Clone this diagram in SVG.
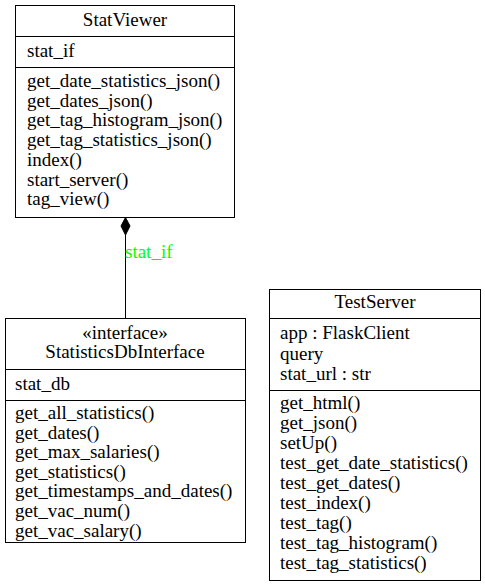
<svg xmlns="http://www.w3.org/2000/svg" width="485" height="587" viewBox="0 0 485 587">
<style>
.box{fill:#fff;stroke:#000;stroke-width:1}
.sep{stroke:#000;stroke-width:1}
text{font-family:"Liberation Serif","Times New Roman",serif;font-size:19px;fill:#000}
.c{text-anchor:middle}
.lbl{fill:#00ff00}
</style>
<rect width="485" height="587" fill="#fff"/>
<g id="StatViewer">
<rect class="box" x="15.5" y="5.5" width="219" height="212"/>
<line class="sep" x1="15.5" y1="36.5" x2="234.5" y2="36.5"/>
<line class="sep" x1="15.5" y1="67.5" x2="234.5" y2="67.5"/>
<text class="c" x="125" y="26">StatViewer</text>
<text x="27" y="57">stat_if</text>
<text x="27" y="87">get_date_statistics_json()</text>
<text x="27" y="106.7">get_dates_json()</text>
<text x="27" y="126.4">get_tag_histogram_json()</text>
<text x="27" y="146.1">get_tag_statistics_json()</text>
<text x="27" y="165.8">index()</text>
<text x="27" y="185.5">start_server()</text>
<text x="27" y="205.2">tag_view()</text>
</g>
<g id="StatisticsDbInterface">
<rect class="box" x="5.5" y="318.5" width="240" height="224"/>
<line class="sep" x1="5.5" y1="369.5" x2="245.5" y2="369.5"/>
<line class="sep" x1="5.5" y1="400.5" x2="245.5" y2="400.5"/>
<text class="c" x="125" y="339">«interface»</text>
<text class="c" x="125" y="358">StatisticsDbInterface</text>
<text x="15" y="390">stat_db</text>
<text x="15" y="419">get_all_statistics()</text>
<text x="15" y="438.6">get_dates()</text>
<text x="15" y="458.2">get_max_salaries()</text>
<text x="15" y="477.8">get_statistics()</text>
<text x="15" y="497.4">get_timestamps_and_dates()</text>
<text x="15" y="517">get_vac_num()</text>
<text x="15" y="536.6">get_vac_salary()</text>
</g>
<g id="TestServer">
<rect class="box" x="269.5" y="289.5" width="211" height="291"/>
<line class="sep" x1="269.5" y1="318.5" x2="480.5" y2="318.5"/>
<line class="sep" x1="269.5" y1="390.5" x2="480.5" y2="390.5"/>
<text class="c" x="375" y="308">TestServer</text>
<text x="280" y="339">app : FlaskClient</text>
<text x="280" y="359.5">query</text>
<text x="280" y="380">stat_url : str</text>
<text x="280" y="408.5">get_html()</text>
<text x="280" y="428.5">get_json()</text>
<text x="280" y="448.5">setUp()</text>
<text x="280" y="468.5">test_get_date_statistics()</text>
<text x="280" y="488.5">test_get_dates()</text>
<text x="280" y="508.5">test_index()</text>
<text x="280" y="528.5">test_tag()</text>
<text x="280" y="548.5">test_tag_histogram()</text>
<text x="280" y="568.5">test_tag_statistics()</text>
</g>
<g id="connectors">
<line x1="125.5" y1="235" x2="125.5" y2="318" stroke="#000" stroke-width="1"/>
<polygon points="125.5,217.5 130,226 125.5,235 121,226" fill="#000" stroke="#000"/>
<text class="lbl" x="125" y="257.5">stat_if</text>
</g>
</svg>
